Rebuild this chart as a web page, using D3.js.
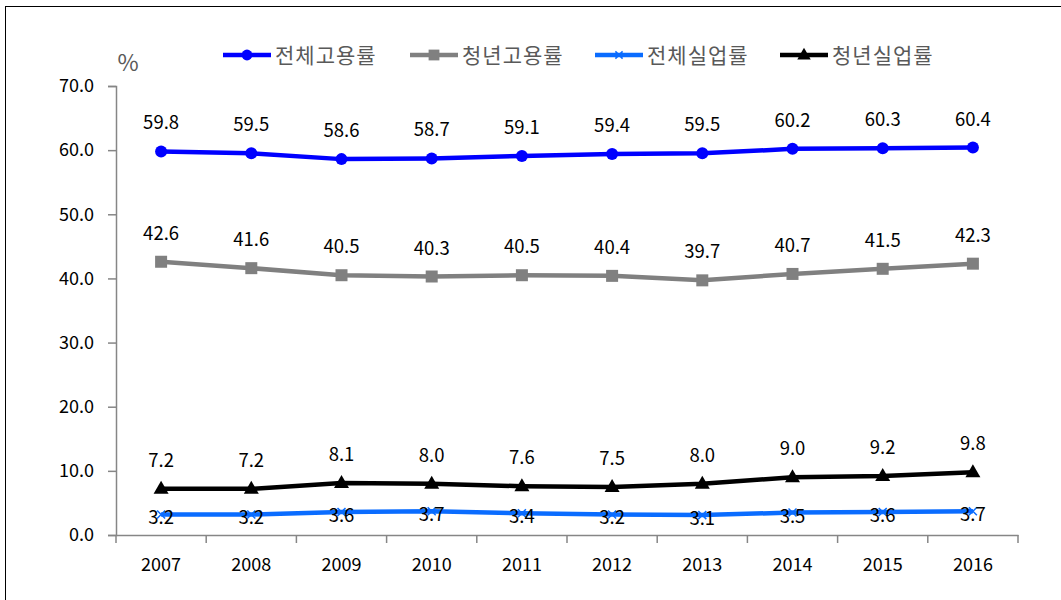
<!DOCTYPE html>
<html><head><meta charset="utf-8">
<script src="https://cdn.jsdelivr.net/npm/d3@7"></script>
<style>body{margin:0;background:#fff}svg{display:block}text{font-family:"Noto Sans CJK KR","Noto Sans",sans-serif}</style>
</head><body><svg id="c" width="1061" height="600"></svg>
<script>
const years = ["2007","2008","2009","2010","2011","2012","2013","2014","2015","2016"];
const totalEmp = [59.8,59.5,58.6,58.7,59.1,59.4,59.5,60.2,60.3,60.4];
const youthEmp = [42.6,41.6,40.5,40.3,40.5,40.4,39.7,40.7,41.5,42.3];
const totalUnemp = [3.2,3.2,3.6,3.7,3.4,3.2,3.1,3.5,3.6,3.7];
const youthUnemp = [7.2,7.2,8.1,8.0,7.6,7.5,8.0,9.0,9.2,9.8];
const seriesNames = ["전체고용률","청년고용률","전체실업률","청년실업률"];
const yTicks = [0,10,20,30,40,50,60,70];

const series = [
  {name:seriesNames[0], vals:totalEmp, color:"#0000ff", marker:"circle", labelDy:-22},
  {name:seriesNames[1], vals:youthEmp, color:"#808080", marker:"square", labelDy:-22},
  {name:seriesNames[2], vals:totalUnemp, color:"#0a6cff", marker:"x", labelDy:10},
  {name:seriesNames[3], vals:youthUnemp, color:"#000000", marker:"triangle", labelDy:-22}
];

const svg = d3.select("#c");
svg.append("rect").attr("x",5.5).attr("y",6.5).attr("width",1060).attr("height",600).attr("fill","none").attr("stroke","#000").attr("stroke-width",1);

const x = d3.scaleBand().domain(years).range([116,1018]);
const y = d3.scaleLinear().domain([0,70]).range([535,86]);

const ya = svg.append("g").attr("transform","translate(116,0)")
  .call(d3.axisLeft(y).tickValues(yTicks).tickFormat(d3.format(".1f")).tickSize(8).tickPadding(14));
ya.select(".domain").attr("stroke","#868686").attr("stroke-width",1.5);
ya.selectAll(".tick line").attr("stroke","#868686").attr("stroke-width",1.5);
ya.selectAll(".tick text").attr("font-size",18).attr("fill","#000").attr("font-family","'Noto Sans',sans-serif");

const xa = svg.append("g").attr("transform","translate(0,535)")
  .call(d3.axisBottom(x).tickSize(0).tickPadding(23));
xa.select(".domain").attr("stroke","#868686").attr("stroke-width",1.5);
xa.selectAll(".tick text").attr("font-size",18).attr("fill","#000").attr("font-family","'Noto Sans',sans-serif");
const bounds = years.map(d=>x(d)).concat([x.range()[1]]);
svg.append("g").selectAll("line").data(bounds).join("line")
  .attr("x1",d=>d).attr("x2",d=>d).attr("y1",535).attr("y2",543)
  .attr("stroke","#868686").attr("stroke-width",1.5);

svg.append("text").attr("x",128).attr("y",71).attr("text-anchor","middle")
  .attr("font-size",23).attr("fill","#595959").attr("font-family","'Noto Sans',sans-serif").text("%");

const cx = d=>x(d)+x.bandwidth()/2;
const line = d3.line().x((v,i)=>cx(years[i])).y(v=>y(v));

function drawMarker(g, type, color, px, py, s){
  if(type==="circle") g.append("circle").attr("cx",px).attr("cy",py).attr("r",6*s).attr("fill",color);
  else if(type==="square") g.append("rect").attr("x",px-6*s).attr("y",py-6*s).attr("width",12*s).attr("height",12*s).attr("fill",color);
  else if(type==="triangle") g.append("path").attr("d",`M${px},${py-8*s}L${px+7.5*s},${py+5*s}L${px-7.5*s},${py+5*s}Z`).attr("fill",color);
  else if(type==="x") g.append("path").attr("d",`M${px-4*s},${py-4*s}L${px+4*s},${py+4*s}M${px-4*s},${py+4*s}L${px+4*s},${py-4*s}`).attr("stroke",color).attr("stroke-width",1.5);
}

const order = [1,0,2,3];
order.forEach(k=>{
  const s = series[k];
  const g = svg.append("g");
  g.append("path").attr("d",line(s.vals)).attr("fill","none").attr("stroke",s.color).attr("stroke-width",4.5).attr("stroke-linejoin","round");
  s.vals.forEach((v,i)=>drawMarker(g,s.marker,s.color,cx(years[i]),y(v),1));
});
series.forEach(s=>{
  svg.append("g").selectAll("text").data(s.vals).join("text")
    .attr("x",(v,i)=>cx(years[i])).attr("y",v=>y(v)+s.labelDy)
    .attr("text-anchor","middle").attr("font-size",18.5).attr("fill","#000")
    .attr("font-family","'Noto Sans',sans-serif")
    .text(v=>v.toFixed(1));
});

const legX = [223,410,595,780];
series.forEach((s,i)=>{
  const g = svg.append("g");
  const x0 = legX[i];
  g.append("line").attr("x1",x0).attr("x2",x0+48).attr("y1",55).attr("y2",55).attr("stroke",s.color).attr("stroke-width",4.5);
  drawMarker(g,s.marker,s.color,x0+24,55,0.9);
  g.append("text").attr("x",x0+52).attr("y",63).attr("font-size",21).attr("letter-spacing",1)
    .attr("fill","#595959").text(s.name);
});
</script></body></html>
